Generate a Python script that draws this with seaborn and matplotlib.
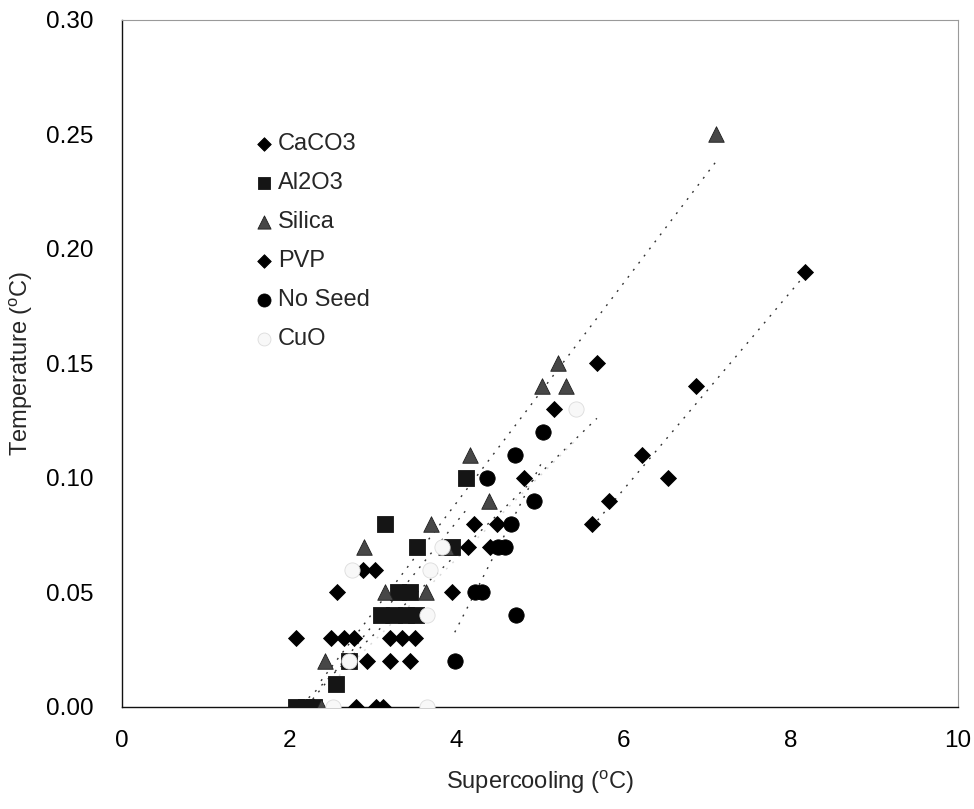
import numpy as np
import pandas as pd
import matplotlib
matplotlib.use("Agg")
import matplotlib.pyplot as plt
import seaborn as sns

# Supercooling (deg C) vs. temperature (deg C) for each nucleating agent
caco3_x = [2.08, 2.50, 2.65, 2.78, 2.80, 3.04, 3.12, 2.93, 3.20, 3.44, 3.20, 3.35,
           3.50, 2.57, 2.88, 3.03, 3.95, 4.14, 4.40, 4.21, 4.48, 4.81, 5.17, 5.68]
caco3_y = [0.03, 0.03, 0.03, 0.03, 0.00, 0.00, 0.00, 0.02, 0.02, 0.02, 0.03, 0.03,
           0.03, 0.05, 0.06, 0.06, 0.05, 0.07, 0.07, 0.08, 0.08, 0.10, 0.13, 0.15]

al2o3_x = [2.08, 2.20, 2.30, 2.56, 2.72, 3.10, 3.25, 3.40, 3.52, 3.30, 3.45, 3.53,
           3.15, 3.95, 4.12]
al2o3_y = [0.00, 0.00, 0.00, 0.01, 0.02, 0.04, 0.04, 0.04, 0.04, 0.05, 0.05, 0.07,
           0.08, 0.07, 0.10]

silica_x = [2.38, 2.43, 2.90, 3.15, 3.63, 3.70, 3.88, 4.16, 4.39, 5.02, 5.22, 5.31, 7.10]
silica_y = [0.00, 0.02, 0.07, 0.05, 0.05, 0.08, 0.07, 0.11, 0.09, 0.14, 0.15, 0.14, 0.25]

pvp_x = [5.62, 5.83, 6.22, 6.53, 6.87, 8.17]
pvp_y = [0.08, 0.09, 0.11, 0.10, 0.14, 0.19]

noseed_x = [3.98, 4.71, 4.22, 4.30, 4.50, 4.58, 4.65, 4.37, 4.70, 4.93, 5.03]
noseed_y = [0.02, 0.04, 0.05, 0.05, 0.07, 0.07, 0.08, 0.10, 0.11, 0.09, 0.12]

cuo_x = [2.52, 2.72, 2.75, 3.65, 3.68, 3.65, 3.83, 5.43]
cuo_y = [0.00, 0.02, 0.06, 0.04, 0.06, 0.00, 0.07, 0.13]

series_names = ["CaCO3", "Al2O3", "Silica", "PVP", "No Seed", "CuO"]
x_ticks = [0, 2, 4, 6, 8, 10]
y_ticks = [0.00, 0.05, 0.10, 0.15, 0.20, 0.25, 0.30]

frames = []
for name, xs, ys in zip(series_names,
                        [caco3_x, al2o3_x, silica_x, pvp_x, noseed_x, cuo_x],
                        [caco3_y, al2o3_y, silica_y, pvp_y, noseed_y, cuo_y]):
    frames.append(pd.DataFrame({"Supercooling": xs, "Temperature": ys, "Agent": name}))
df = pd.concat(frames, ignore_index=True)

sns.set_theme(style="white")
plt.rcParams["font.family"] = ["Liberation Sans", "DejaVu Sans"]
plt.rcParams["mathtext.fontset"] = "custom"
plt.rcParams["mathtext.rm"] = "Liberation Sans"

fig = plt.figure(figsize=(9.74, 8.09), dpi=100)
ax = fig.add_axes([0.1253, 0.1261, 0.8583, 0.8492])

styles = {
    "CaCO3":   dict(marker="D", s=66,  color="#000000", edgecolor="#000000"),
    "Al2O3":   dict(marker="s", s=118, color="#151515", edgecolor="#151515"),
    "Silica":  dict(marker="^", s=125, color="#474747", edgecolor="#1e1e1e"),
    "PVP":     dict(marker="D", s=66,  color="#000000", edgecolor="#000000"),
    "No Seed": dict(marker="o", s=122, color="#000000", edgecolor="#000000"),
    "CuO":     dict(marker="o", s=120, color="#f8f8f8", edgecolor="#dcdcdc"),
}

# Linear trend lines over each series' range
for name in series_names:
    sub = df[df["Agent"] == name]
    sns.regplot(data=sub, x="Supercooling", y="Temperature", ax=ax,
                scatter=False, ci=None, truncate=True,
                line_kws=dict(linestyle=(0, (1.4, 5)), linewidth=1.0,
                              color="#d8d8d8" if name == "CuO" else "#333333",
                              zorder=1))

for i, name in enumerate(series_names):
    sub = df[df["Agent"] == name]
    st = styles[name]
    sns.scatterplot(data=sub, x="Supercooling", y="Temperature", ax=ax,
                    marker=st["marker"], s=st["s"], color=st["color"],
                    edgecolor=st["edgecolor"], linewidth=0.6,
                    label=name, zorder=3 + i)

ax.set_xlim(0, 10)
ax.set_ylim(0, 0.30)
ax.set_xticks(x_ticks)
ax.set_xticklabels([str(t) for t in x_ticks])
ax.set_yticks(y_ticks)
ax.set_yticklabels([f"{t:.2f}" for t in y_ticks])
ax.tick_params(axis="both", direction="inout", length=9, width=0.8,
               colors="#000000", labelsize=17.5)
ax.tick_params(axis="y", pad=16)
ax.tick_params(axis="x", pad=12)

for side in ["left", "bottom"]:
    ax.spines[side].set_color("#111111")
    ax.spines[side].set_linewidth(1.0)
for side in ["top", "right"]:
    ax.spines[side].set_color("#9a9a9a")
    ax.spines[side].set_linewidth(0.8)
    ax.spines[side].set_linestyle((0, (1, 1)))

ax.set_xlabel(r"Supercooling ($^{\rm o}$C)", fontsize=17, labelpad=12)
ax.set_ylabel(r"Temperature ($^{\rm o}$C)", fontsize=17, labelpad=8)

leg = ax.legend(loc="upper left", bbox_to_anchor=(0.144, 0.849), frameon=False,
                fontsize=17, labelspacing=0.72, handletextpad=0.1,
                handlelength=1.0, borderaxespad=0, markerscale=0.85)

fig.savefig("out.png", dpi=100, facecolor="white")
